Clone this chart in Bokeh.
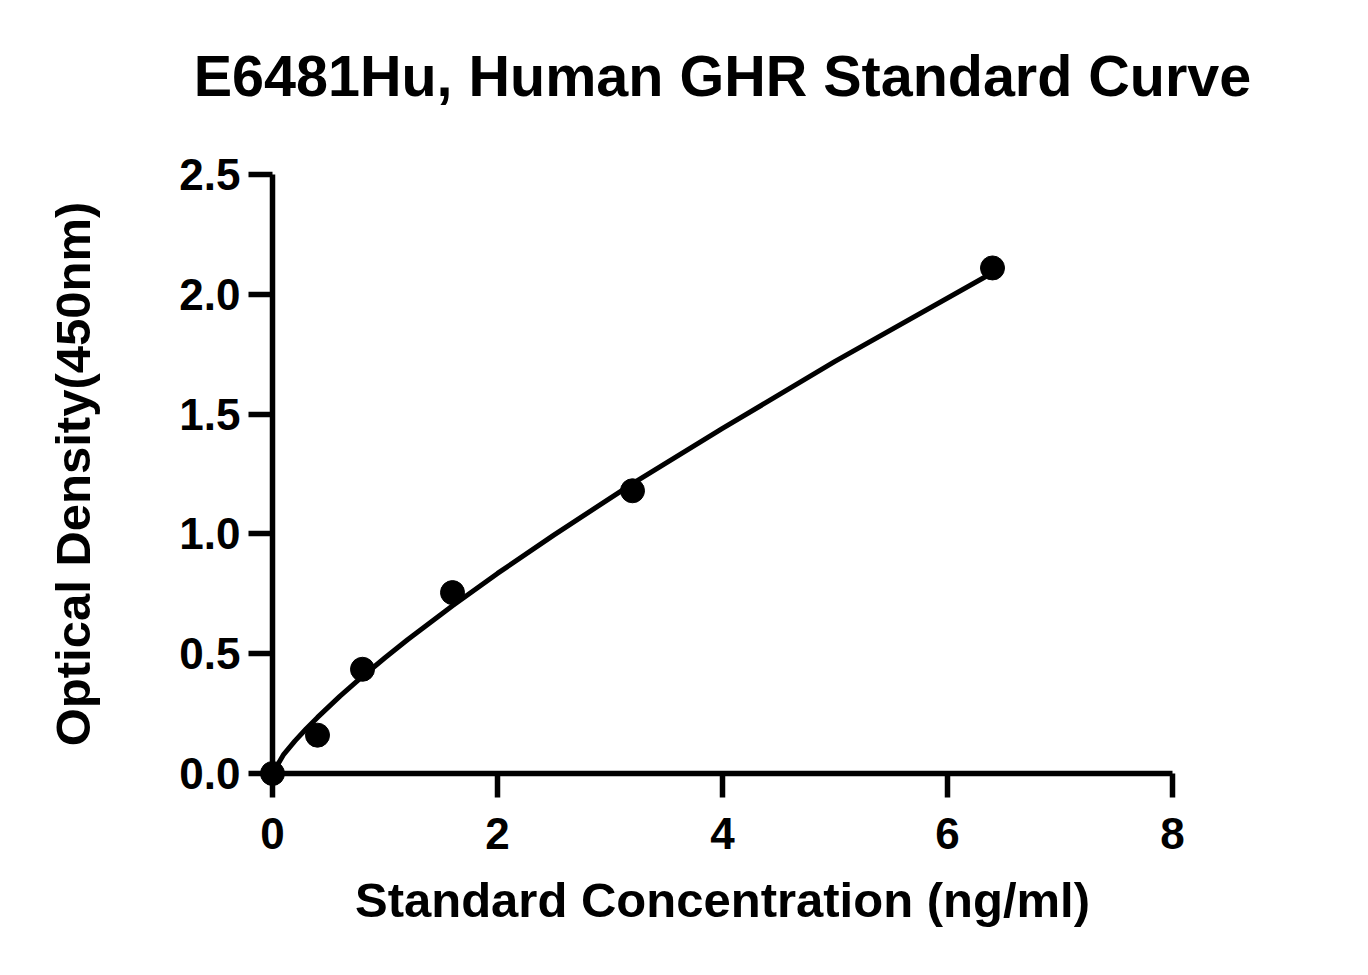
from bokeh.plotting import figure
from bokeh.models import Range1d, FixedTicker, NumeralTickFormatter, LinearAxis
from bokeh.embed import file_html
from bokeh.resources import INLINE

# Data
conc = [0.0, 0.4, 0.8, 1.6, 3.2, 6.4]
od = [0.0, 0.16, 0.435, 0.755, 1.18, 2.11]

# fitted standard curve
fit_conc = [0.0, 0.1, 0.2, 0.3, 0.4, 0.6, 0.8, 1.0, 1.2, 1.6, 2.0, 2.5, 3.2, 4.0, 5.0, 6.4]
fit_od = [0.0, 0.08, 0.136, 0.187, 0.234, 0.323, 0.405, 0.483, 0.558, 0.70, 0.835, 0.995, 1.21, 1.44, 1.72, 2.09]

x_ticks = [0, 2, 4, 6, 8]
y_ticks = [0.0, 0.5, 1.0, 1.5, 2.0, 2.5]

FONT = "Liberation Sans"

p = figure(width=1350, height=955, output_backend="svg", toolbar_location=None,
           x_range=Range1d(0, 8), y_range=Range1d(0, 2.5),
           min_border_left=272, min_border_right=178, min_border_top=174, min_border_bottom=182,
           title="E6481Hu, Human GHR Standard Curve")
p.outline_line_color = None
p.xgrid.visible = False
p.ygrid.visible = False

xa = p.below[0]
ya = p.left[0]

p.title.text_font = FONT
p.title.text_font_size = "57.5px"
p.title.text_font_style = "bold"
p.title.align = "center"
p.title.standoff = 0
p.title.text_color = "black"

# blank spacer between the title and the plot frame (nothing drawn: no line, tick or label colour)
spacer = LinearAxis(ticker=FixedTicker(ticks=[4]), axis_line_color=None,
                    major_tick_line_color=None, minor_tick_line_color=None,
                    major_tick_out=67, major_tick_in=0, major_label_standoff=0,
                    major_label_text_font_size="1px", major_label_text_color=None)
p.add_layout(spacer, "above")

for ax in (xa, ya):
    ax.axis_line_width = 5.5
    ax.axis_line_color = "black"
    ax.major_tick_line_width = 5.5
    ax.major_tick_line_color = "black"
    ax.major_tick_out = 24
    ax.major_tick_in = 0
    ax.minor_tick_line_color = None
    ax.major_label_text_font = FONT
    ax.major_label_text_font_size = "44px"
    ax.major_label_text_font_style = "bold"
    ax.major_label_text_color = "black"
    ax.axis_label_text_font = FONT
    ax.axis_label_text_font_size = "49px"
    ax.axis_label_text_font_style = "bold"
    ax.axis_label_text_color = "black"

xa.ticker = FixedTicker(ticks=x_ticks)
ya.ticker = FixedTicker(ticks=y_ticks)
xa.formatter = NumeralTickFormatter(format="0")
ya.formatter = NumeralTickFormatter(format="0.0")
xa.major_label_standoff = 20
ya.major_label_standoff = 8
xa.axis_label = "Standard Concentration (ng/ml)"
ya.axis_label = "Optical Density(450nm)"
xa.axis_label_standoff = 21
ya.axis_label_standoff = 76

curve = p.line(fit_conc, fit_od, line_width=5, line_color="black")
pts = p.scatter(conc, od, size=24, fill_color="black", line_color="black")
pts.level = "overlay"

open("out.html", "w").write(file_html(p, INLINE))
